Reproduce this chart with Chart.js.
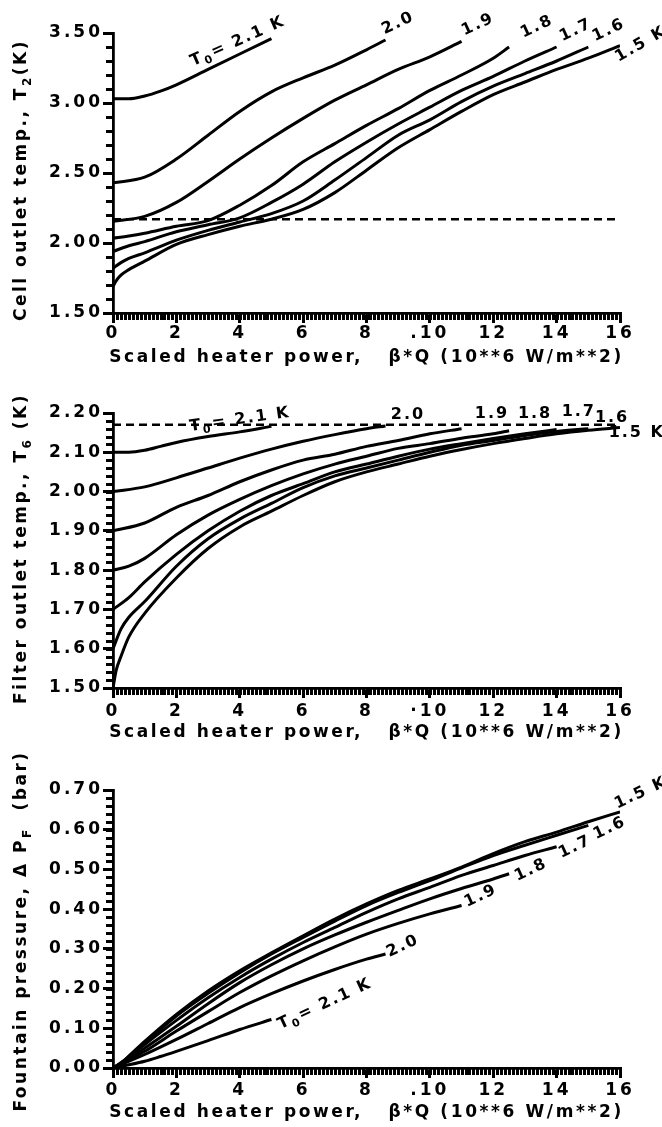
<!DOCTYPE html>
<html lang="en">
<head>
<meta charset="UTF-8">
<title>Cell, filter and fountain response vs. heater power</title>
<script src="https://cdn.jsdelivr.net/npm/chart.js"></script>
<style>
  body { margin: 0; background: #fff; }
  .panel { position: absolute; left: 0; width: 662px; }
  canvas { display: block; }
</style>
</head>
<body>
<div class="panel" style="top:0;height:370px"><canvas id="cellChart" width="662" height="370"></canvas></div>
<div class="panel" style="top:370px;height:370px"><canvas id="filterChart" width="662" height="370"></canvas></div>
<div class="panel" style="top:740px;height:387px"><canvas id="fountainChart" width="662" height="387"></canvas></div>

<script>
// bath temperature T0 (K) of each curve, top to bottom in the T panels
const bathTemps = ['2.1', '2.0', '1.9', '1.8', '1.7', '1.6', '1.5'];

// scaled heater power B*Q (10**6 W/m**2) where each curve was read
const q21 = [0, 0.5, 1, 1.5, 2, 3, 4, 5];
const q20 = [0, 1, 2, 3, 4, 5, 6, 7, 8, 8.6];
const q19 = [0, 1, 2, 3, 4, 5, 6, 7, 8, 9, 10, 11];
const q18 = [0, 0.5, 1, 2, 3, 4, 5, 6, 7, 8, 9, 10, 11, 12, 12.5];
const q17 = [0, 0.5, 1, 2, 3, 4, 5, 6, 7, 8, 9, 10, 11, 12, 13, 14];
const q16 = [0, 0.25, 0.5, 1, 2, 3, 4, 5, 6, 7, 8, 9, 10, 11, 12, 13, 14, 15];
const q15 = [0, 0.1, 0.25, 0.5, 1, 2, 3, 4, 5, 6, 7, 8, 9, 10, 11, 12, 13, 14, 15, 16];

const xTickLabels = ['0', '2', '4', '6', '8', '.10', '12', '14', '16'];
const xTickLabelsMid = ['0', '2', '4', '6', '8', '·10', '12', '14', '16'];
const lambdaT = 2.17; // dashed line, K

// cell outlet temp T2 (K)
const cell21 = [3.03, 3.03, 3.05, 3.085, 3.13, 3.24, 3.35, 3.46];
const cell20 = [2.43, 2.47, 2.60, 2.77, 2.94, 3.08, 3.18, 3.27, 3.38, 3.45];
const cell19 = [2.155, 2.19, 2.29, 2.44, 2.60, 2.75, 2.89, 3.02, 3.13, 3.24, 3.33, 3.44];
const cell18 = [2.035, 2.05, 2.07, 2.12, 2.16, 2.27, 2.41, 2.58, 2.71, 2.84, 2.96, 3.09, 3.20, 3.32, 3.40];
const cell17 = [1.94, 1.98, 2.01, 2.08, 2.13, 2.18, 2.29, 2.42, 2.58, 2.72, 2.85, 2.97, 3.09, 3.19, 3.30, 3.40];
const cell16 = [1.82, 1.86, 1.89, 1.93, 2.02, 2.09, 2.15, 2.21, 2.30, 2.45, 2.61, 2.77, 2.88, 3.01, 3.12, 3.21, 3.30, 3.40];
const cell15 = [1.69, 1.73, 1.77, 1.81, 1.87, 1.99, 2.06, 2.12, 2.17, 2.24, 2.36, 2.52, 2.68, 2.81, 2.94, 3.06, 3.15, 3.24, 3.32, 3.41];

// filter outlet temp T6 (K)
const filt21 = [2.10, 2.10, 2.105, 2.115, 2.125, 2.14, 2.152, 2.166];
const filt20 = [2.00, 2.012, 2.035, 2.06, 2.085, 2.108, 2.128, 2.145, 2.16, 2.167];
const filt19 = [1.90, 1.92, 1.96, 1.99, 2.025, 2.055, 2.08, 2.095, 2.115, 2.13, 2.147, 2.16];
const filt18 = [1.80, 1.81, 1.83, 1.89, 1.94, 1.98, 2.015, 2.045, 2.07, 2.09, 2.11, 2.122, 2.136, 2.147, 2.155];
const filt17 = [1.70, 1.73, 1.77, 1.84, 1.90, 1.95, 1.99, 2.02, 2.05, 2.07, 2.09, 2.108, 2.122, 2.135, 2.147, 2.158];
const filt16 = [1.60, 1.65, 1.68, 1.72, 1.81, 1.88, 1.93, 1.97, 2.01, 2.04, 2.06, 2.08, 2.10, 2.118, 2.13, 2.143, 2.153, 2.16];
const filt15 = [1.50, 1.545, 1.58, 1.63, 1.69, 1.78, 1.855, 1.91, 1.95, 1.99, 2.025, 2.05, 2.07, 2.09, 2.107, 2.122, 2.135, 2.147, 2.156, 2.163];

// fountain pressure dPF (bar)
const fp21 = [0, 0.008, 0.017, 0.029, 0.042, 0.069, 0.097, 0.122];
const fp20 = [0, 0.034, 0.072, 0.112, 0.152, 0.187, 0.219, 0.248, 0.274, 0.287];
const fp19 = [0, 0.042, 0.093, 0.142, 0.19, 0.232, 0.27, 0.305, 0.337, 0.364, 0.388, 0.409];
const fp18 = [0, 0.022, 0.05, 0.105, 0.162, 0.215, 0.26, 0.30, 0.335, 0.367, 0.397, 0.426, 0.452, 0.476, 0.489];
const fp17 = [0, 0.027, 0.059, 0.12, 0.177, 0.228, 0.274, 0.316, 0.354, 0.392, 0.426, 0.455, 0.485, 0.51, 0.535, 0.557];
const fp16 = [0, 0.012, 0.029, 0.063, 0.131, 0.188, 0.24, 0.287, 0.329, 0.37, 0.409, 0.442, 0.472, 0.504, 0.535, 0.561, 0.586, 0.611];
const fp15 = [0, 0.004, 0.012, 0.03, 0.067, 0.135, 0.194, 0.245, 0.29, 0.333, 0.375, 0.413, 0.447, 0.476, 0.506, 0.54, 0.57, 0.594, 0.62, 0.645];

const qGrid = [q21, q20, q19, q18, q17, q16, q15];
const FONT = '"DejaVu Sans", "Liberation Sans", sans-serif';

function curves(rows) {
    return rows.map((ys, i) => ({
        label: 'T0 = ' + bathTemps[i] + ' K',
        data: qGrid[i].map((q, j) => ({ x: q, y: ys[j] })),
        borderColor: '#000',
        borderWidth: 3,
        pointRadius: 0,
        fill: false,
        cubicInterpolationMode: 'monotone'
    }));
}

function lambdaLine() {
    return {
        label: 'lambda',
        data: [{ x: 0, y: lambdaT }, { x: 16, y: lambdaT }],
        borderColor: '#000',
        borderWidth: 2.4,
        borderDash: [8, 5],
        pointRadius: 0,
        fill: false
    };
}

// text made of runs: [text, isSubscript]
function drawRuns(ctx, runs, cx, cy, angle, spacing, size) {
    let total = 0;
    const widths = runs.map(r => {
        ctx.font = 'bold ' + (r[1] ? Math.round(size * 0.7) : size) + 'px ' + FONT;
        ctx.letterSpacing = spacing + 'px';
        const w = ctx.measureText(r[0]).width;
        total += w;
        return w;
    });
    ctx.save();
    ctx.translate(cx, cy);
    ctx.rotate(angle);
    ctx.textAlign = 'left';
    ctx.textBaseline = 'middle';
    let px = -total / 2;
    runs.forEach((r, i) => {
        ctx.font = 'bold ' + (r[1] ? Math.round(size * 0.7) : size) + 'px ' + FONT;
        ctx.letterSpacing = spacing + 'px';
        ctx.fillText(r[0], px, r[1] ? size * 0.35 : 0);
        px += widths[i];
    });
    ctx.restore();
}

function curveLabelRuns(i) {
    if (i === 0) return [['T', false], ['0', true], ['= ' + bathTemps[0] + ' K', false]];
    if (i === bathTemps.length - 1) return [[bathTemps[i] + ' K', false]];
    return [[bathTemps[i], false]];
}

const xTitle = [['Scaled heater power,   β*Q (10**6 W/m**2)', false]];

// minor ticks, axis titles and curve labels for one panel
function makeExtras(p) {
    return {
        id: 'extras',
        beforeDraw(chart) {
            chart.ctx.letterSpacing = '3px';
        },
        afterDraw(chart) {
            const ctx = chart.ctx;
            const a = chart.chartArea;
            const x = chart.scales.x, y = chart.scales.y;
            ctx.save();
            ctx.globalAlpha = 1;
            ctx.globalCompositeOperation = 'source-over';
            ctx.fillStyle = '#000000';
            const nx = Math.round(16 / p.xMinor);
            for (let i = 0; i <= nx; i++) {
                const px = Math.round(x.getPixelForValue(i * p.xMinor));
                ctx.fillRect(px - 1, a.bottom, 3, 7);
            }
            const ny = Math.round((p.yMax - p.yMin) / p.yMinor);
            for (let i = 0; i <= ny; i++) {
                const py = Math.round(y.getPixelForValue(p.yMin + i * p.yMinor));
                ctx.fillRect(a.left - 7, py - 1, 7, 3);
            }

            drawRuns(ctx, xTitle, (a.left + a.right) / 2, a.bottom + 45, 0, 2.6, 17);
            drawRuns(ctx, p.yTitle, 22, (a.top + a.bottom) / 2 + p.yTitleShift, -Math.PI / 2, 2.5, 17);

            p.labels.forEach((l, i) => {
                drawRuns(ctx, curveLabelRuns(i), x.getPixelForValue(l[0]), y.getPixelForValue(l[1]),
                    l[2] * Math.PI / 180, 2, 16);
            });
            ctx.restore();
        }
    };
}

function panelOptions(p) {
    const tickFont = { family: FONT, weight: 'bold', size: 17 };
    return {
        responsive: false,
        animation: false,
        devicePixelRatio: 1,
        layout: { padding: { top: p.top, right: 42, left: 0, bottom: 0 } },
        plugins: {
            legend: { display: false },
            tooltip: { enabled: false }
        },
        scales: {
            x: {
                type: 'linear',
                min: 0,
                max: 16,
                afterFit: s => { s.height = p.xHeight; },
                ticks: {
                    stepSize: 2,
                    autoSkip: false,
                    maxRotation: 0,
                    padding: p.xPad,
                    color: '#000',
                    font: tickFont,
                    callback: (v, i) => p.xLabels[i]
                },
                grid: { drawOnChartArea: false, drawTicks: true, tickLength: 10, color: '#000', lineWidth: 3 },
                border: { display: true, color: '#000', width: 2.8 }
            },
            y: {
                type: 'linear',
                min: p.yMin,
                max: p.yMax,
                afterFit: s => { s.width = 113; },
                ticks: {
                    stepSize: p.yStep,
                    padding: 0,
                    color: '#000',
                    font: tickFont,
                    callback: v => v.toFixed(2)
                },
                grid: { drawOnChartArea: false, drawTicks: true, tickLength: 10, color: '#000', lineWidth: 3 },
                border: { display: true, color: '#000', width: 2.8 }
            }
        }
    };
}

function makePanel(id, rows, withLambda, p) {
    let sets = curves(rows);
    if (withLambda) sets = sets.concat([lambdaLine()]);
    return new Chart(document.getElementById(id), {
        type: 'line',
        data: { datasets: sets },
        options: panelOptions(p),
        plugins: [makeExtras(p)]
    });
}

// Cell outlet temperature
makePanel('cellChart', [cell21, cell20, cell19, cell18, cell17, cell16, cell15], true, {
    top: 33, xHeight: 57, xPad: 0, xLabels: xTickLabels,
    yMin: 1.5, yMax: 3.5, yStep: 0.5, xMinor: 0.125, yMinor: 0.1,
    yTitle: [['Cell outlet temp., T', false], ['2', true], ['(K)', false]], yTitleShift: 7,
    labels: [[3.94, 3.44, -24], [9.0, 3.57, -25], [11.52, 3.56, -25], [13.38, 3.545, -25],
             [14.61, 3.52, -25], [15.65, 3.52, -25], [16.66, 3.42, -30]]
});

// Filter outlet temperature
makePanel('filterChart', [filt21, filt20, filt19, filt18, filt17, filt16, filt15], true, {
    top: 43, xHeight: 52, xPad: 3, xLabels: xTickLabelsMid,
    yMin: 1.5, yMax: 2.2, yStep: 0.1, xMinor: 0.125, yMinor: 0.02,
    yTitle: [['Filter outlet temp., T', false], ['6', true], [' (K)', false]], yTitleShift: -2,
    labels: [[4.01, 2.183, -8], [9.31, 2.196, 0], [11.96, 2.198, 0], [13.32, 2.198, 0],
             [14.70, 2.203, 0], [15.75, 2.188, 0], [16.53, 2.15, 0]]
});

// Fountain pressure
makePanel('fountainChart', [fp21, fp20, fp19, fp18, fp17, fp16, fp15], false, {
    top: 50, xHeight: 59, xPad: 2, xLabels: xTickLabels,
    yMin: 0, yMax: 0.7, yStep: 0.1, xMinor: 0.125, yMinor: 0.02,
    yTitle: [['Fountain pressure, Δ P', false], ['F', true], ['  (bar)', false]], yTitleShift: 2,
    labels: [[6.69, 0.161, -25], [9.15, 0.307, -25], [11.61, 0.433, -25], [13.19, 0.4986, -25],
             [14.58, 0.5565, -25], [15.68, 0.604, -25], [16.66, 0.6925, -25]]
});
</script>
</body>
</html>
